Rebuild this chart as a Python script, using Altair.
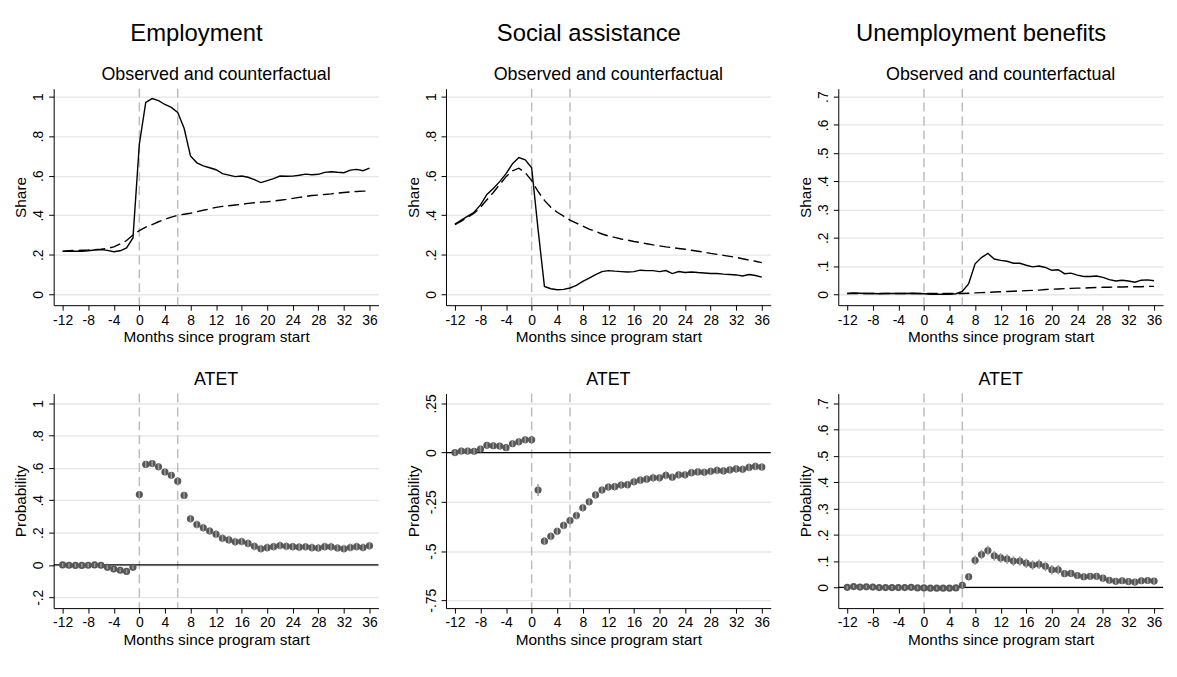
import altair as alt
import pandas as pd

months = list(range(-12, 37))

# Employment
emp_obs = [0.217, 0.218, 0.218, 0.218, 0.220, 0.224, 0.226, 0.222, 0.215, 0.220, 0.235, 0.285,
           0.760, 0.970, 0.990, 0.980, 0.960, 0.945, 0.920, 0.840, 0.700, 0.665, 0.650, 0.640, 0.630,
           0.610, 0.603, 0.595, 0.598, 0.592, 0.580, 0.565, 0.575, 0.585, 0.598, 0.597, 0.598,
           0.602, 0.608, 0.605, 0.607, 0.617, 0.620, 0.617, 0.615, 0.628, 0.632, 0.625, 0.638]
emp_cf = [0.218, 0.220, 0.222, 0.223, 0.224, 0.226, 0.228, 0.232, 0.240, 0.255, 0.272, 0.300,
          0.322, 0.340, 0.353, 0.367, 0.380, 0.390, 0.400, 0.405, 0.410, 0.418, 0.425, 0.432, 0.440,
          0.445, 0.448, 0.452, 0.455, 0.460, 0.463, 0.466, 0.468, 0.472, 0.476, 0.480, 0.485,
          0.490, 0.495, 0.500, 0.502, 0.505, 0.508, 0.512, 0.515, 0.518, 0.520, 0.522, 0.522]
emp_atet = [0.000, -0.002, -0.003, -0.003, -0.002, 0.000, -0.002, -0.015, -0.025, -0.033, -0.040, -0.015,
            0.435, 0.622, 0.627, 0.607, 0.575, 0.555, 0.518, 0.430, 0.285, 0.250, 0.230, 0.210, 0.190,
            0.165, 0.155, 0.143, 0.145, 0.133, 0.115, 0.100, 0.107, 0.113, 0.120, 0.115, 0.113,
            0.110, 0.112, 0.107, 0.105, 0.113, 0.112, 0.105, 0.100, 0.108, 0.113, 0.108, 0.118]
emp_ci = [0.012, 0.012, 0.012, 0.012, 0.012, 0.012, 0.012, 0.012, 0.012, 0.012, 0.012, 0.012,
          0.020, 0.020, 0.020, 0.020, 0.020, 0.020, 0.020, 0.020, 0.025, 0.025, 0.025, 0.025, 0.025,
          0.025, 0.025, 0.025, 0.025, 0.025, 0.025, 0.025, 0.025, 0.025, 0.025, 0.025, 0.025,
          0.025, 0.025, 0.025, 0.025, 0.025, 0.025, 0.025, 0.025, 0.025, 0.025, 0.025, 0.025]

# Social assistance
sa_obs = [0.355, 0.375, 0.395, 0.415, 0.452, 0.505, 0.535, 0.570, 0.610, 0.660, 0.692, 0.680,
          0.640, 0.330, 0.040, 0.028, 0.023, 0.025, 0.032, 0.045, 0.065, 0.082, 0.100, 0.115, 0.120,
          0.117, 0.115, 0.113, 0.115, 0.122, 0.120, 0.120, 0.115, 0.120, 0.105, 0.115, 0.110,
          0.113, 0.110, 0.108, 0.105, 0.105, 0.102, 0.100, 0.098, 0.093, 0.100, 0.095, 0.087]
sa_cf = [0.352, 0.370, 0.390, 0.410, 0.440, 0.478, 0.515, 0.555, 0.595, 0.625, 0.638, 0.615,
         0.575, 0.520, 0.475, 0.440, 0.415, 0.395, 0.375, 0.360, 0.345, 0.330, 0.318, 0.305, 0.295,
         0.288, 0.280, 0.274, 0.267, 0.262, 0.256, 0.250, 0.245, 0.240, 0.236, 0.232, 0.228,
         0.223, 0.218, 0.213, 0.207, 0.202, 0.197, 0.192, 0.187, 0.180, 0.173, 0.167, 0.160]
sa_atet = [0.000, 0.008, 0.008, 0.007, 0.018, 0.037, 0.035, 0.033, 0.025, 0.045, 0.055, 0.065,
           0.065, -0.190, -0.450, -0.425, -0.400, -0.370, -0.345, -0.320, -0.280, -0.250, -0.215, -0.190, -0.175,
           -0.173, -0.165, -0.163, -0.148, -0.140, -0.135, -0.128, -0.128, -0.115, -0.125, -0.113, -0.113,
           -0.102, -0.098, -0.100, -0.095, -0.090, -0.093, -0.088, -0.083, -0.085, -0.075, -0.070, -0.073]
sa_ci = [0.015, 0.015, 0.015, 0.015, 0.015, 0.015, 0.015, 0.015, 0.015, 0.015, 0.015, 0.015,
         0.015, 0.030, 0.020, 0.020, 0.020, 0.020, 0.020, 0.020, 0.020, 0.020, 0.020, 0.020, 0.020,
         0.020, 0.020, 0.020, 0.020, 0.020, 0.020, 0.020, 0.020, 0.020, 0.020, 0.020, 0.020,
         0.020, 0.020, 0.020, 0.020, 0.020, 0.020, 0.020, 0.020, 0.020, 0.020, 0.020, 0.020]

# Unemployment benefits
ub_obs = [0.003, 0.005, 0.004, 0.003, 0.003, 0.002, 0.003, 0.003, 0.003, 0.003, 0.004, 0.003,
          0.002, 0.000, 0.000, 0.000, 0.000, 0.002, 0.010, 0.038, 0.108, 0.130, 0.145, 0.125, 0.120,
          0.117, 0.110, 0.110, 0.103, 0.097, 0.100, 0.095, 0.085, 0.087, 0.073, 0.075, 0.068,
          0.063, 0.063, 0.065, 0.060, 0.052, 0.047, 0.050, 0.047, 0.043, 0.050, 0.051, 0.048]
ub_cf = [0.003, 0.003, 0.003, 0.003, 0.003, 0.003, 0.003, 0.003, 0.003, 0.003, 0.003, 0.003,
         0.003, 0.003, 0.003, 0.003, 0.003, 0.003, 0.003, 0.004, 0.005, 0.006, 0.007, 0.008, 0.009,
         0.010, 0.011, 0.012, 0.013, 0.014, 0.015, 0.017, 0.018, 0.019, 0.020, 0.021, 0.022,
         0.022, 0.023, 0.024, 0.025, 0.025, 0.026, 0.026, 0.027, 0.027, 0.027, 0.028, 0.028]
ub_atet = [0.000, 0.003, 0.001, 0.002, 0.001, -0.001, -0.001, -0.001, -0.001, -0.001, 0.000, -0.002,
           -0.002, -0.003, -0.003, -0.003, -0.003, -0.002, 0.008, 0.040, 0.103, 0.125, 0.140, 0.120, 0.112,
           0.108, 0.100, 0.100, 0.092, 0.085, 0.088, 0.080, 0.067, 0.067, 0.052, 0.053, 0.045,
           0.040, 0.042, 0.042, 0.035, 0.027, 0.023, 0.025, 0.022, 0.020, 0.025, 0.026, 0.024]
ub_ci = [0.006, 0.006, 0.006, 0.006, 0.006, 0.006, 0.006, 0.006, 0.006, 0.006, 0.006, 0.006,
         0.006, 0.006, 0.006, 0.006, 0.006, 0.006, 0.010, 0.010, 0.018, 0.018, 0.018, 0.018, 0.018,
         0.018, 0.018, 0.018, 0.018, 0.018, 0.018, 0.018, 0.018, 0.018, 0.012, 0.012, 0.012,
         0.012, 0.012, 0.012, 0.012, 0.012, 0.012, 0.012, 0.012, 0.012, 0.012, 0.012, 0.012]

column_titles = ["Employment", "Social assistance", "Unemployment benefits"]
top_title = "Observed and counterfactual"
bottom_title = "ATET"
x_title = "Months since program start"
ref_months = [0, 6]

x_ticks = [-12, -8, -4, 0, 4, 8, 12, 16, 20, 24, 28, 32, 36]
top_domains = [[-0.055, 1.04], [-0.055, 1.04], [-0.0385, 0.728]]
top_ticks = [[0, 0.2, 0.4, 0.6, 0.8, 1], [0, 0.2, 0.4, 0.6, 0.8, 1],
             [0, 0.1, 0.2, 0.3, 0.4, 0.5, 0.6, 0.7]]
bot_domains = [[-0.267, 1.06], [-0.79, 0.30], [-0.079, 0.738]]
bot_ticks = [[-0.2, 0, 0.2, 0.4, 0.6, 0.8, 1], [-0.75, -0.5, -0.25, 0, 0.25],
             [0, 0.1, 0.2, 0.3, 0.4, 0.5, 0.6, 0.7]]

FONT = "Liberation Sans"
W, H_TOP, H_BOT = 327, 218, 216
XDOM = [-13.4, 37.4]

YLABEL = ("datum.value == 0 ? '0' : (abs(datum.value) < 1 ? (datum.value < 0 ? '-' : '') + "
          "substring(format(abs(datum.value), '~g'), 1) : format(datum.value, '~g'))")
XLABEL = "(datum.value < 0 ? '-' : '') + format(abs(datum.value), 'd')"


def xenc():
    return alt.X('month:Q', scale=alt.Scale(domain=XDOM, nice=False, zero=False),
                 axis=alt.Axis(values=x_ticks, labelExpr=XLABEL, title=x_title, grid=False))


def yenc(field, dom, ticks, title):
    return alt.Y(f'{field}:Q', scale=alt.Scale(domain=dom, nice=False, zero=False),
                 axis=alt.Axis(values=ticks, labelExpr=YLABEL, title=title, grid=True,
                               labelAngle=270, labelAlign='center', labelBaseline='bottom'))


def vrules():
    df = pd.DataFrame({'month': ref_months})
    return alt.Chart(df).mark_rule(color='#BDBDBD', strokeWidth=1.5, strokeDash=[9, 5]).encode(x=xenc())


def top_panel(obs, cf, dom, ticks):
    d_obs = pd.DataFrame({'month': months, 'value': obs})
    d_cf = pd.DataFrame({'month': months, 'value': cf})
    l_obs = alt.Chart(d_obs).mark_line(color='black', strokeWidth=1.4).encode(
        x=xenc(), y=yenc('value', dom, ticks, 'Share'))
    l_cf = alt.Chart(d_cf).mark_line(color='black', strokeWidth=1.4, strokeDash=[11, 5]).encode(
        x=xenc(), y=yenc('value', dom, ticks, 'Share'))
    return alt.layer(vrules(), l_cf, l_obs).properties(
        width=W, height=H_TOP,
        title=alt.TitleParams(top_title, fontSize=18, fontWeight='normal', anchor='middle',
                              frame='group', offset=4))


def bottom_panel(atet, ci, dom, ticks):
    lo = [a - c for a, c in zip(atet, ci)]
    hi = [a + c for a, c in zip(atet, ci)]
    d = pd.DataFrame({'month': months, 'value': atet, 'lo': lo, 'hi': hi})
    zero = alt.Chart(pd.DataFrame({'value': [0]})).mark_rule(color='black', strokeWidth=1.2).encode(
        y=yenc('value', dom, ticks, 'Probability'))
    pts = alt.Chart(d).mark_circle(size=52, color='#575757', opacity=1).encode(
        x=xenc(), y=yenc('value', dom, ticks, 'Probability'))
    bars = alt.Chart(d).mark_rule(color='#9a9a9a', strokeWidth=1.5).encode(
        x=xenc(), y=yenc('lo', dom, ticks, 'Probability'), y2='hi:Q')
    return alt.layer(vrules(), zero, pts, bars).properties(
        width=W, height=H_BOT,
        title=alt.TitleParams(bottom_title, fontSize=18, fontWeight='normal', anchor='middle',
                              frame='group', offset=4))


series = [(emp_obs, emp_cf, emp_atet, emp_ci), (sa_obs, sa_cf, sa_atet, sa_ci),
          (ub_obs, ub_cf, ub_atet, ub_ci)]

cols = []
for i, (o, c, a, ci) in enumerate(series):
    col = alt.vconcat(
        top_panel(o, c, top_domains[i], top_ticks[i]),
        bottom_panel(a, ci, bot_domains[i], bot_ticks[i]),
        spacing=25,
        title=alt.TitleParams(column_titles[i], fontSize=24, fontWeight='normal', anchor='middle', offset=20),
    )
    cols.append(col)

chart = alt.hconcat(*cols, spacing=26).properties(
    padding={"left": 5, "top": 12, "right": 5, "bottom": 5}, background='white'
).configure_view(stroke=None).configure_axis(
    labelFont=FONT, titleFont=FONT, labelFontSize=14, titleFontSize=15.5,
    titleFontWeight='normal', labelColor='black', titleColor='black',
    domainColor='black', domainWidth=1, tickColor='black', tickSize=5, tickWidth=1,
    gridColor='#E6E6E6', gridWidth=1.3, labelPadding=3, titlePadding=3
).configure_title(font=FONT, color='black')

chart.save("out.html", embed_options={"renderer": "svg", "actions": False})
